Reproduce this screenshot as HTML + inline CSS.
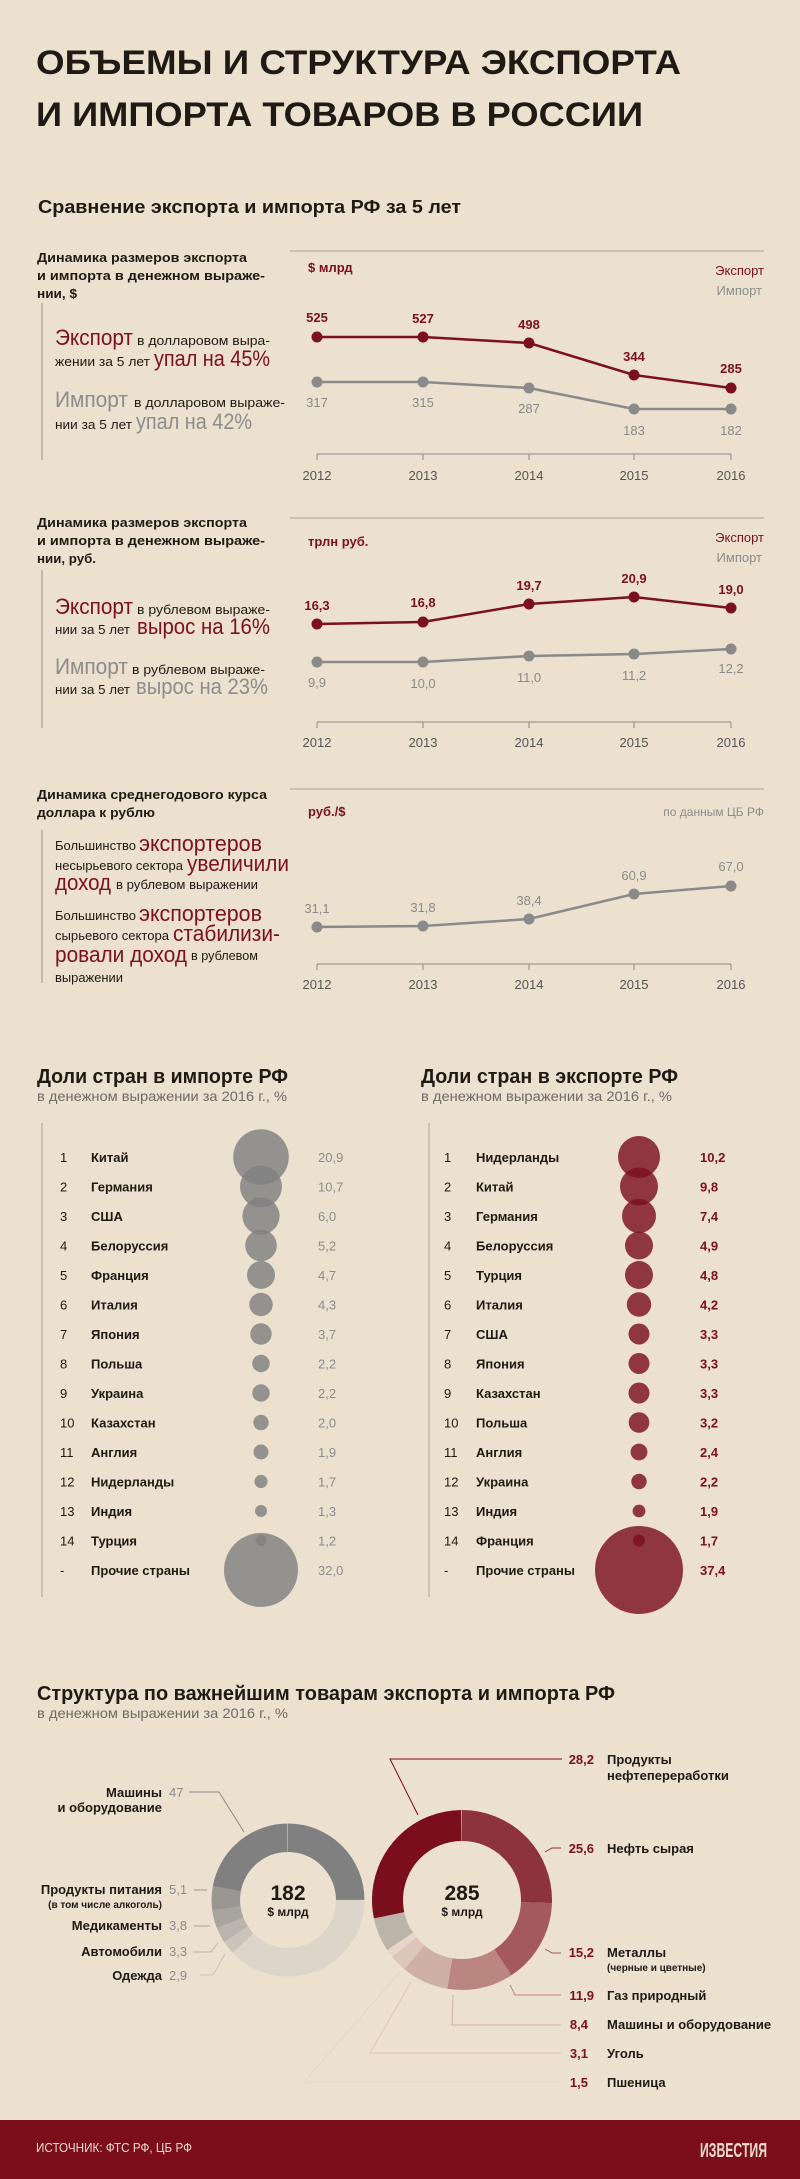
<!DOCTYPE html>
<html><head><meta charset="utf-8"><style>
html,body{margin:0;padding:0;background:#ece0cf;}
svg{display:block;font-family:"Liberation Sans",sans-serif;}
</style></head><body>
<svg width="800" height="2179" viewBox="0 0 800 2179" xmlns="http://www.w3.org/2000/svg">
<rect width="800" height="2179" fill="#ece0cf"/>
<g fill="#1f1a14" font-weight="bold">
<text x="36" y="74" font-size="34" textLength="645" lengthAdjust="spacingAndGlyphs">ОБЪЕМЫ И СТРУКТУРА ЭКСПОРТА</text>
<text x="36" y="126" font-size="34" textLength="607" lengthAdjust="spacingAndGlyphs">И ИМПОРТА ТОВАРОВ В РОССИИ</text>
<text x="38" y="213" font-size="18" textLength="423" lengthAdjust="spacingAndGlyphs">Сравнение экспорта и импорта РФ за 5 лет</text>
</g>

<!-- Chart 1 -->
<g font-size="13" font-weight="bold" fill="#1f1a14">
<text x="37" y="262" textLength="210" lengthAdjust="spacingAndGlyphs">Динамика размеров экспорта</text>
<text x="37" y="280" textLength="228" lengthAdjust="spacingAndGlyphs">и импорта в денежном выраже-</text>
<text x="37" y="298" textLength="40" lengthAdjust="spacingAndGlyphs">нии, $</text>
</g>
<line x1="42" y1="303" x2="42" y2="460" stroke="#9a948c" stroke-width="1"/>
<g font-size="13" fill="#1f1a14">
<text x="55" y="345" font-size="22" fill="#7b1020" textLength="78" lengthAdjust="spacingAndGlyphs">Экспорт</text>
<text x="137" y="345" textLength="133" lengthAdjust="spacingAndGlyphs">в долларовом выра-</text>
<text x="55" y="366" textLength="95" lengthAdjust="spacingAndGlyphs">жении за 5 лет</text>
<text x="154" y="366" font-size="22" fill="#7b1020" textLength="116" lengthAdjust="spacingAndGlyphs">упал на 45%</text>
<text x="55" y="407" font-size="22" fill="#8c8c8c" textLength="73" lengthAdjust="spacingAndGlyphs">Импорт</text>
<text x="134" y="407" textLength="151" lengthAdjust="spacingAndGlyphs">в долларовом выраже-</text>
<text x="55" y="429" textLength="77" lengthAdjust="spacingAndGlyphs">нии за 5 лет</text>
<text x="136" y="429" font-size="22" fill="#8c8c8c" textLength="116" lengthAdjust="spacingAndGlyphs">упал на 42%</text>
</g>
<line x1="290" y1="251" x2="764" y2="251" stroke="#a9a39b" stroke-width="1"/>
<text x="308" y="272" font-size="13" font-weight="bold" fill="#7b1020">$ млрд</text>
<text x="764" y="275" font-size="13" fill="#7b1020" text-anchor="end">Экспорт</text>
<text x="762" y="295" font-size="13" fill="#8c8c8c" text-anchor="end">Импорт</text>
<polyline points="317,337 423,337 529,343 634,375 731,388" fill="none" stroke="#7b1020" stroke-width="2.5"/>
<polyline points="317,382 423,382 529,388 634,409 731,409" fill="none" stroke="#8a8a8a" stroke-width="2.5"/>
<g fill="#7b1020"><circle cx="317" cy="337" r="5.5"/><circle cx="423" cy="337" r="5.5"/><circle cx="529" cy="343" r="5.5"/><circle cx="634" cy="375" r="5.5"/><circle cx="731" cy="388" r="5.5"/></g>
<g fill="#8a8a8a"><circle cx="317" cy="382" r="5.5"/><circle cx="423" cy="382" r="5.5"/><circle cx="529" cy="388" r="5.5"/><circle cx="634" cy="409" r="5.5"/><circle cx="731" cy="409" r="5.5"/></g>
<g font-size="13" font-weight="bold" fill="#7b1020" text-anchor="middle">
<text x="317" y="322">525</text><text x="423" y="323">527</text><text x="529" y="329">498</text><text x="634" y="361">344</text><text x="731" y="373">285</text></g>
<g font-size="13" fill="#8a8a8a" text-anchor="middle">
<text x="317" y="407">317</text><text x="423" y="407">315</text><text x="529" y="413">287</text><text x="634" y="435">183</text><text x="731" y="435">182</text></g>
<g stroke="#8a8a8a" stroke-width="1"><line x1="317" y1="454" x2="731" y2="454"/><line x1="317" y1="454" x2="317" y2="460"/><line x1="423" y1="454" x2="423" y2="460"/><line x1="529" y1="454" x2="529" y2="460"/><line x1="634" y1="454" x2="634" y2="460"/><line x1="731" y1="454" x2="731" y2="460"/></g>
<g font-size="13" fill="#555" text-anchor="middle"><text x="317" y="480">2012</text><text x="423" y="480">2013</text><text x="529" y="480">2014</text><text x="634" y="480">2015</text><text x="731" y="480">2016</text></g>

<!-- Chart 2 -->
<g font-size="13" font-weight="bold" fill="#1f1a14">
<text x="37" y="527" textLength="210" lengthAdjust="spacingAndGlyphs">Динамика размеров экспорта</text>
<text x="37" y="545" textLength="228" lengthAdjust="spacingAndGlyphs">и импорта в денежном выраже-</text>
<text x="37" y="563" textLength="59" lengthAdjust="spacingAndGlyphs">нии, руб.</text>
</g>
<line x1="42" y1="570" x2="42" y2="728" stroke="#9a948c" stroke-width="1"/>
<g font-size="13" fill="#1f1a14">
<text x="55" y="614" font-size="22" fill="#7b1020" textLength="78" lengthAdjust="spacingAndGlyphs">Экспорт</text>
<text x="137" y="614" textLength="133" lengthAdjust="spacingAndGlyphs">в рублевом выраже-</text>
<text x="55" y="634" textLength="75" lengthAdjust="spacingAndGlyphs">нии за 5 лет</text>
<text x="137" y="634" font-size="22" fill="#7b1020" textLength="133" lengthAdjust="spacingAndGlyphs">вырос на 16%</text>
<text x="55" y="674" font-size="22" fill="#8c8c8c" textLength="73" lengthAdjust="spacingAndGlyphs">Импорт</text>
<text x="132" y="674" textLength="133" lengthAdjust="spacingAndGlyphs">в рублевом выраже-</text>
<text x="55" y="694" textLength="75" lengthAdjust="spacingAndGlyphs">нии за 5 лет</text>
<text x="136" y="694" font-size="22" fill="#8c8c8c" textLength="132" lengthAdjust="spacingAndGlyphs">вырос на 23%</text>
</g>
<line x1="290" y1="518" x2="764" y2="518" stroke="#a9a39b" stroke-width="1"/>
<text x="308" y="546" font-size="13" font-weight="bold" fill="#7b1020">трлн руб.</text>
<text x="764" y="542" font-size="13" fill="#7b1020" text-anchor="end">Экспорт</text>
<text x="762" y="562" font-size="13" fill="#8c8c8c" text-anchor="end">Импорт</text>
<polyline points="317,624 423,622 529,604 634,597 731,608" fill="none" stroke="#7b1020" stroke-width="2.5"/>
<polyline points="317,662 423,662 529,656 634,654 731,649" fill="none" stroke="#8a8a8a" stroke-width="2.5"/>
<g fill="#7b1020"><circle cx="317" cy="624" r="5.5"/><circle cx="423" cy="622" r="5.5"/><circle cx="529" cy="604" r="5.5"/><circle cx="634" cy="597" r="5.5"/><circle cx="731" cy="608" r="5.5"/></g>
<g fill="#8a8a8a"><circle cx="317" cy="662" r="5.5"/><circle cx="423" cy="662" r="5.5"/><circle cx="529" cy="656" r="5.5"/><circle cx="634" cy="654" r="5.5"/><circle cx="731" cy="649" r="5.5"/></g>
<g font-size="13" font-weight="bold" fill="#7b1020" text-anchor="middle">
<text x="317" y="610">16,3</text><text x="423" y="607">16,8</text><text x="529" y="590">19,7</text><text x="634" y="583">20,9</text><text x="731" y="594">19,0</text></g>
<g font-size="13" fill="#8a8a8a" text-anchor="middle">
<text x="317" y="687">9,9</text><text x="423" y="688">10,0</text><text x="529" y="682">11,0</text><text x="634" y="680">11,2</text><text x="731" y="673">12,2</text></g>
<g stroke="#8a8a8a" stroke-width="1"><line x1="317" y1="722" x2="731" y2="722"/><line x1="317" y1="722" x2="317" y2="728"/><line x1="423" y1="722" x2="423" y2="728"/><line x1="529" y1="722" x2="529" y2="728"/><line x1="634" y1="722" x2="634" y2="728"/><line x1="731" y1="722" x2="731" y2="728"/></g>
<g font-size="13" fill="#555" text-anchor="middle"><text x="317" y="747">2012</text><text x="423" y="747">2013</text><text x="529" y="747">2014</text><text x="634" y="747">2015</text><text x="731" y="747">2016</text></g>

<!-- Chart 3 -->
<g font-size="13" font-weight="bold" fill="#1f1a14">
<text x="37" y="799" textLength="230" lengthAdjust="spacingAndGlyphs">Динамика среднегодового курса</text>
<text x="37" y="817" textLength="118" lengthAdjust="spacingAndGlyphs">доллара к рублю</text>
</g>
<line x1="42" y1="830" x2="42" y2="983" stroke="#9a948c" stroke-width="1"/>
<g font-size="13" fill="#1f1a14">
<text x="55" y="850" textLength="81" lengthAdjust="spacingAndGlyphs">Большинство</text>
<text x="139" y="851" font-size="22" fill="#7b1020" textLength="123" lengthAdjust="spacingAndGlyphs">экспортеров</text>
<text x="55" y="870" textLength="128" lengthAdjust="spacingAndGlyphs">несырьевого сектора</text>
<text x="187" y="871" font-size="22" fill="#7b1020" textLength="102" lengthAdjust="spacingAndGlyphs">увеличили</text>
<text x="55" y="890" font-size="22" fill="#7b1020" textLength="56" lengthAdjust="spacingAndGlyphs">доход</text>
<text x="116" y="889" textLength="142" lengthAdjust="spacingAndGlyphs">в рублевом выражении</text>
<text x="55" y="920" textLength="81" lengthAdjust="spacingAndGlyphs">Большинство</text>
<text x="139" y="921" font-size="22" fill="#7b1020" textLength="123" lengthAdjust="spacingAndGlyphs">экспортеров</text>
<text x="55" y="940" textLength="114" lengthAdjust="spacingAndGlyphs">сырьевого сектора</text>
<text x="173" y="941" font-size="22" fill="#7b1020" textLength="107" lengthAdjust="spacingAndGlyphs">стабилизи-</text>
<text x="55" y="962" font-size="22" fill="#7b1020" textLength="132" lengthAdjust="spacingAndGlyphs">ровали доход</text>
<text x="191" y="960" textLength="67" lengthAdjust="spacingAndGlyphs">в рублевом</text>
<text x="55" y="982" textLength="68" lengthAdjust="spacingAndGlyphs">выражении</text>
</g>
<line x1="290" y1="789" x2="764" y2="789" stroke="#a9a39b" stroke-width="1"/>
<text x="308" y="816" font-size="13" font-weight="bold" fill="#7b1020">руб./$</text>
<text x="764" y="816" font-size="12" fill="#8c8c8c" text-anchor="end">по данным ЦБ РФ</text>
<polyline points="317,927 423,926 529,919 634,894 731,886" fill="none" stroke="#8a8a8a" stroke-width="2.5"/>
<g fill="#8a8a8a"><circle cx="317" cy="927" r="5.5"/><circle cx="423" cy="926" r="5.5"/><circle cx="529" cy="919" r="5.5"/><circle cx="634" cy="894" r="5.5"/><circle cx="731" cy="886" r="5.5"/></g>
<g font-size="13" fill="#8a8a8a" text-anchor="middle">
<text x="317" y="913">31,1</text><text x="423" y="912">31,8</text><text x="529" y="905">38,4</text><text x="634" y="880">60,9</text><text x="731" y="871">67,0</text></g>
<g stroke="#8a8a8a" stroke-width="1"><line x1="317" y1="964" x2="731" y2="964"/><line x1="317" y1="964" x2="317" y2="970"/><line x1="423" y1="964" x2="423" y2="970"/><line x1="529" y1="964" x2="529" y2="970"/><line x1="634" y1="964" x2="634" y2="970"/><line x1="731" y1="964" x2="731" y2="970"/></g>
<g font-size="13" fill="#555" text-anchor="middle"><text x="317" y="989">2012</text><text x="423" y="989">2013</text><text x="529" y="989">2014</text><text x="634" y="989">2015</text><text x="731" y="989">2016</text></g>

<!-- Country shares -->
<text x="37" y="1083" font-size="20" font-weight="bold" fill="#1f1a14" textLength="251" lengthAdjust="spacingAndGlyphs">Доли стран в импорте РФ</text>
<text x="37" y="1101" font-size="14" fill="#6e6a66" textLength="250" lengthAdjust="spacingAndGlyphs">в денежном выражении за 2016 г., %</text>
<text x="421" y="1083" font-size="20" font-weight="bold" fill="#1f1a14" textLength="257" lengthAdjust="spacingAndGlyphs">Доли стран в экспорте РФ</text>
<text x="421" y="1101" font-size="14" fill="#6e6a66" textLength="251" lengthAdjust="spacingAndGlyphs">в денежном выражении за 2016 г., %</text>
<line x1="42" y1="1123" x2="42" y2="1597" stroke="#a9a39b" stroke-width="1"/>
<line x1="429" y1="1123" x2="429" y2="1597" stroke="#a9a39b" stroke-width="1"/>

<g fill="#808080" fill-opacity="0.82">
<circle cx="261" cy="1157" r="27.8"/><circle cx="261" cy="1186.5" r="21"/><circle cx="261" cy="1216" r="18.6"/><circle cx="261" cy="1245.5" r="15.8"/><circle cx="261" cy="1275" r="14"/><circle cx="261" cy="1304.5" r="11.7"/><circle cx="261" cy="1334" r="10.7"/><circle cx="261" cy="1363.5" r="8.7"/><circle cx="261" cy="1393" r="8.7"/><circle cx="261" cy="1422.5" r="7.7"/><circle cx="261" cy="1452" r="7.5"/><circle cx="261" cy="1481.5" r="6.6"/><circle cx="261" cy="1511" r="6"/><circle cx="261" cy="1540.5" r="5.5"/><circle cx="261" cy="1570" r="37"/>
</g>
<g fill="#7b1020" fill-opacity="0.82">
<circle cx="639" cy="1157" r="21"/><circle cx="639" cy="1186.5" r="19"/><circle cx="639" cy="1216" r="17"/><circle cx="639" cy="1245.5" r="14"/><circle cx="639" cy="1275" r="14"/><circle cx="639" cy="1304.5" r="12.2"/><circle cx="639" cy="1334" r="10.5"/><circle cx="639" cy="1363.5" r="10.5"/><circle cx="639" cy="1393" r="10.5"/><circle cx="639" cy="1422.5" r="10.3"/><circle cx="639" cy="1452" r="8.4"/><circle cx="639" cy="1481.5" r="7.7"/><circle cx="639" cy="1511" r="6.4"/><circle cx="639" cy="1540.5" r="6"/><circle cx="639" cy="1570" r="44"/>
</g>

<g font-size="13">
<g fill="#1f1a14"><text x="60" y="1162">1</text><text x="60" y="1191.5">2</text><text x="60" y="1221">3</text><text x="60" y="1250.5">4</text><text x="60" y="1280">5</text><text x="60" y="1309.5">6</text><text x="60" y="1339">7</text><text x="60" y="1368.5">8</text><text x="60" y="1398">9</text><text x="60" y="1427.5">10</text><text x="60" y="1457">11</text><text x="60" y="1486.5">12</text><text x="60" y="1516">13</text><text x="60" y="1545.5">14</text><text x="60" y="1575">-</text></g>
<g fill="#1f1a14" font-weight="bold"><text x="91" y="1162">Китай</text><text x="91" y="1191.5">Германия</text><text x="91" y="1221">США</text><text x="91" y="1250.5">Белоруссия</text><text x="91" y="1280">Франция</text><text x="91" y="1309.5">Италия</text><text x="91" y="1339">Япония</text><text x="91" y="1368.5">Польша</text><text x="91" y="1398">Украина</text><text x="91" y="1427.5">Казахстан</text><text x="91" y="1457">Англия</text><text x="91" y="1486.5">Нидерланды</text><text x="91" y="1516">Индия</text><text x="91" y="1545.5">Турция</text><text x="91" y="1575">Прочие страны</text></g>
<g fill="#8c8c8c"><text x="318" y="1162">20,9</text><text x="318" y="1191.5">10,7</text><text x="318" y="1221">6,0</text><text x="318" y="1250.5">5,2</text><text x="318" y="1280">4,7</text><text x="318" y="1309.5">4,3</text><text x="318" y="1339">3,7</text><text x="318" y="1368.5">2,2</text><text x="318" y="1398">2,2</text><text x="318" y="1427.5">2,0</text><text x="318" y="1457">1,9</text><text x="318" y="1486.5">1,7</text><text x="318" y="1516">1,3</text><text x="318" y="1545.5">1,2</text><text x="318" y="1575">32,0</text></g>

<g fill="#1f1a14"><text x="444" y="1162">1</text><text x="444" y="1191.5">2</text><text x="444" y="1221">3</text><text x="444" y="1250.5">4</text><text x="444" y="1280">5</text><text x="444" y="1309.5">6</text><text x="444" y="1339">7</text><text x="444" y="1368.5">8</text><text x="444" y="1398">9</text><text x="444" y="1427.5">10</text><text x="444" y="1457">11</text><text x="444" y="1486.5">12</text><text x="444" y="1516">13</text><text x="444" y="1545.5">14</text><text x="444" y="1575">-</text></g>
<g fill="#1f1a14" font-weight="bold"><text x="476" y="1162">Нидерланды</text><text x="476" y="1191.5">Китай</text><text x="476" y="1221">Германия</text><text x="476" y="1250.5">Белоруссия</text><text x="476" y="1280">Турция</text><text x="476" y="1309.5">Италия</text><text x="476" y="1339">США</text><text x="476" y="1368.5">Япония</text><text x="476" y="1398">Казахстан</text><text x="476" y="1427.5">Польша</text><text x="476" y="1457">Англия</text><text x="476" y="1486.5">Украина</text><text x="476" y="1516">Индия</text><text x="476" y="1545.5">Франция</text><text x="476" y="1575">Прочие страны</text></g>
<g fill="#7b1020" font-weight="bold"><text x="700" y="1162">10,2</text><text x="700" y="1191.5">9,8</text><text x="700" y="1221">7,4</text><text x="700" y="1250.5">4,9</text><text x="700" y="1280">4,8</text><text x="700" y="1309.5">4,2</text><text x="700" y="1339">3,3</text><text x="700" y="1368.5">3,3</text><text x="700" y="1398">3,3</text><text x="700" y="1427.5">3,2</text><text x="700" y="1457">2,4</text><text x="700" y="1486.5">2,2</text><text x="700" y="1516">1,9</text><text x="700" y="1545.5">1,7</text><text x="700" y="1575">37,4</text></g>
</g>

<!-- Structure -->
<text x="37" y="1700" font-size="20" font-weight="bold" fill="#1f1a14" textLength="578" lengthAdjust="spacingAndGlyphs">Структура по важнейшим товарам экспорта и импорта РФ</text>
<text x="37" y="1718" font-size="14" fill="#6e6a66" textLength="251" lengthAdjust="spacingAndGlyphs">в денежном выражении за 2016 г., %</text>

<g transform="rotate(-90 288 1900)" fill="none" stroke-width="28.5">
<circle cx="288" cy="1900" r="62.2" pathLength="100" stroke="#ddd5ca" stroke-dasharray="37.9 100" stroke-dashoffset="-25"/>
<circle cx="288" cy="1900" r="62.2" pathLength="100" stroke="#cbc4bb" stroke-dasharray="2.9 100" stroke-dashoffset="-62.9"/>
<circle cx="288" cy="1900" r="62.2" pathLength="100" stroke="#bab4ac" stroke-dasharray="3.3 100" stroke-dashoffset="-65.8"/>
<circle cx="288" cy="1900" r="62.2" pathLength="100" stroke="#a9a49e" stroke-dasharray="3.8 100" stroke-dashoffset="-69.1"/>
<circle cx="288" cy="1900" r="62.2" pathLength="100" stroke="#9a9692" stroke-dasharray="5.1 100" stroke-dashoffset="-72.9"/>
<circle cx="288" cy="1900" r="62.2" pathLength="100" stroke="#808080" stroke-dasharray="22 100" stroke-dashoffset="-78"/>
<circle cx="288" cy="1900" r="62.2" pathLength="100" stroke="#808080" stroke-dasharray="25 100" stroke-dashoffset="0"/>
</g>
<g transform="rotate(-90 462 1900)" fill="none" stroke-width="31">
<circle cx="462" cy="1900" r="74.5" pathLength="100" stroke="#8c333b" stroke-dasharray="25.6 100" stroke-dashoffset="0"/>
<circle cx="462" cy="1900" r="74.5" pathLength="100" stroke="#a45a5c" stroke-dasharray="15.2 100" stroke-dashoffset="-25.6"/>
<circle cx="462" cy="1900" r="74.5" pathLength="100" stroke="#bb8580" stroke-dasharray="11.9 100" stroke-dashoffset="-40.8"/>
<circle cx="462" cy="1900" r="74.5" pathLength="100" stroke="#cfb0a6" stroke-dasharray="8.4 100" stroke-dashoffset="-52.7"/>
<circle cx="462" cy="1900" r="74.5" pathLength="100" stroke="#dcc5b9" stroke-dasharray="3.1 100" stroke-dashoffset="-61.1"/>
<circle cx="462" cy="1900" r="74.5" pathLength="100" stroke="#e6d6c9" stroke-dasharray="1.5 100" stroke-dashoffset="-64.2"/>
<circle cx="462" cy="1900" r="74.5" pathLength="100" stroke="#bcb3a9" stroke-dasharray="6.1 100" stroke-dashoffset="-65.7"/>
<circle cx="462" cy="1900" r="74.5" pathLength="100" stroke="#7a0e1a" stroke-dasharray="28.2 100" stroke-dashoffset="-71.8"/>
</g>
<g font-weight="bold" fill="#1f1a14" text-anchor="middle">
<text x="288" y="1900" font-size="21">182</text><text x="288" y="1916" font-size="12">$ млрд</text>
<text x="462" y="1900" font-size="21">285</text><text x="462" y="1916" font-size="12">$ млрд</text>
</g>

<g fill="none" stroke-width="1">
<polyline points="189,1792 219,1792 244,1832" stroke="#8a8a8a"/>
<line x1="194" y1="1890" x2="207" y2="1890" stroke="#9a9692"/>
<line x1="194" y1="1926" x2="210" y2="1926" stroke="#a9a49e"/>
<polyline points="193,1952 211,1952 218,1943" stroke="#bab4ac"/>
<polyline points="200,1975 213,1975 225,1954" stroke="#cbc4bb"/>
<polyline points="562,1759 390,1759 418,1815" stroke="#7a0e1a"/>
<polyline points="561,1848 552,1848 545,1852" stroke="#8c333b"/>
<polyline points="561,1953 552,1953 545,1949" stroke="#a45a5c"/>
<polyline points="561,1995 515,1995 510,1985" stroke="#bb8580"/>
<polyline points="561,2025 452,2025 453,1995" stroke="#cfb0a6"/>
<polyline points="561,2053 370,2053 411,1982" stroke="#dcc5b9"/>
<polyline points="561,2082 304,2082 400,1972" stroke="#e6d6c9"/>
</g>
<g font-size="13">
<g font-weight="bold" fill="#1f1a14" text-anchor="end">
<text x="162" y="1797">Машины</text><text x="162" y="1812">и оборудование</text>
<text x="162" y="1894">Продукты питания</text><text x="162" y="1908" font-size="10">(в том числе алкоголь)</text>
<text x="162" y="1930">Медикаменты</text><text x="162" y="1956">Автомобили</text><text x="162" y="1980">Одежда</text>
</g>
<g fill="#8c8c8c"><text x="169" y="1797">47</text><text x="169" y="1894">5,1</text><text x="169" y="1930">3,8</text><text x="169" y="1956">3,3</text><text x="169" y="1980">2,9</text></g>
<g fill="#7b1020" font-weight="bold" text-anchor="end"><text x="594" y="1764">28,2</text><text x="594" y="1853">25,6</text><text x="594" y="1957">15,2</text><text x="594" y="2000">11,9</text><text x="588" y="2029">8,4</text><text x="588" y="2058">3,1</text><text x="588" y="2087">1,5</text></g>
<g fill="#1f1a14" font-weight="bold"><text x="607" y="1764">Продукты</text><text x="607" y="1780">нефтепереработки</text><text x="607" y="1853">Нефть сырая</text><text x="607" y="1957">Металлы</text><text x="607" y="1971" font-size="10">(черные и цветные)</text><text x="607" y="2000">Газ природный</text><text x="607" y="2029">Машины и оборудование</text><text x="607" y="2058">Уголь</text><text x="607" y="2087">Пшеница</text></g>
</g>

<!-- Footer -->
<rect x="0" y="2120" width="800" height="59" fill="#7b0e19"/>
<text x="36" y="2152" font-size="13" fill="#eadccb" textLength="156" lengthAdjust="spacingAndGlyphs">ИСТОЧНИК: ФТС РФ, ЦБ РФ</text>
<text x="700" y="2157" font-size="20" font-weight="bold" fill="#eadccb" textLength="67" lengthAdjust="spacingAndGlyphs">ИЗВЕСТИЯ</text>
</svg>
</body></html>
